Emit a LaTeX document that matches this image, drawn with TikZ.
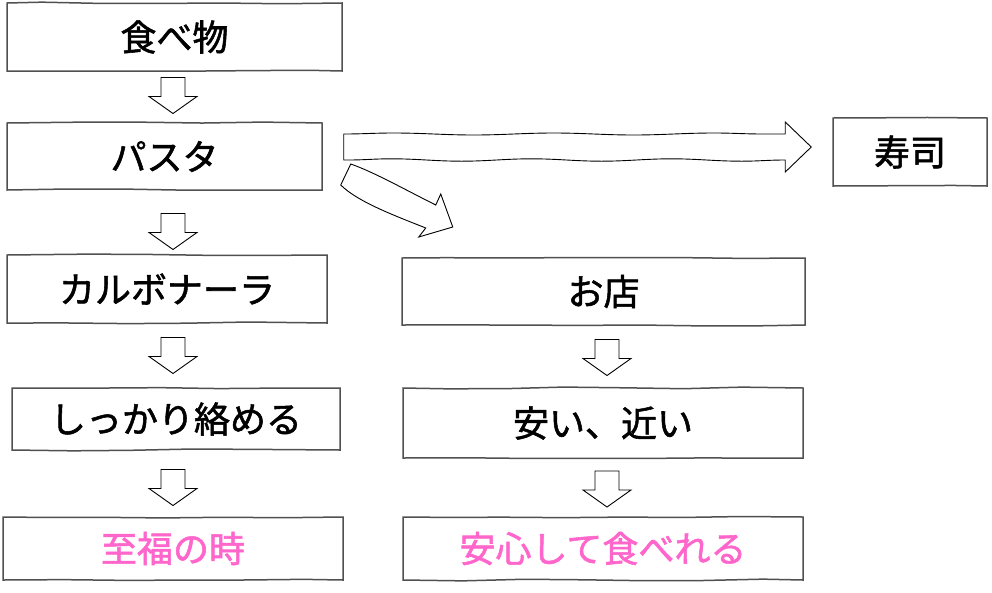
\documentclass[tikz,border=0pt]{standalone}
\usepackage{fontspec}
\setmainfont{Noto Sans CJK JP}[FakeBold=1.5]
\usetikzlibrary{calc, decorations.pathmorphing}
\definecolor{sketchgray}{HTML}{505050}
\definecolor{goalpink}{HTML}{FF66CC}
\tikzset{
    box/.style={rectangle, draw=sketchgray, line width=1.5pt, fill=white,
        align=center, inner sep=0pt, font=\fontsize{36}{42}\selectfont,
        decorate, decoration={random steps, segment length=60pt, amplitude=1pt}},
    goal/.style={box, text=goalpink},
    blockarr/.style={draw=black, line width=0.9pt, fill=white, line join=miter}
}
% block arrow pointing down, centred between two boxes
\newcommand{\blockdown}[4][0]{%
    \path ($(#3.south)!0.5!(#4.north)$) coordinate (bd-mid);
    \draw[blockarr] let \p1=($(#2 |- bd-mid)+(0,#1)$) in
        (\x1-12pt,\y1+18pt) -- (\x1+12pt,\y1+18pt) -- (\x1+12pt,\y1-1pt)
        -- (\x1+24pt,\y1-1pt) -- (\x1,\y1-18pt) -- (\x1-24pt,\y1-1pt)
        -- (\x1-12pt,\y1-1pt) -- cycle;
}
% long block arrow pointing right, wavy shaft
\newcommand{\blockright}[2]{%
    \draw[blockarr] let \p1=(#1), \p2=(#2) in
        (\x1,\y1+13pt)
        decorate[decoration={snake, amplitude=1pt, segment length=160pt}]
            {-- (\x2-26pt,\y1+13pt)}
        -- (\x2-26pt,\y1+25pt) -- (\x2,\y1) -- (\x2-26pt,\y1-25pt) -- (\x2-26pt,\y1-13pt)
        decorate[decoration={snake, amplitude=1.2pt, segment length=140pt}]
            {-- (\x1,\y1-13pt)}
        -- cycle;
}

\begin{document}
\begin{tikzpicture}[x=1pt, y=-1pt]
%% LAYOUT (pixels, y down):
%% left column  x~173 : food, pasta, carbo, tangle, bliss
%% right column x~605 : shop, cheap, safe
%% sushi far right on the pasta row
\useasboundingbox (0,0) rectangle (992,592);

\node[box, minimum width=335pt, minimum height=68pt] (food)   at (174.5, 37)  {食べ物};
\node[box, minimum width=315pt, minimum height=67pt] (pasta)  at (164.5,156.5){パスタ};
\node[box, minimum width=154pt, minimum height=68pt] (sushi)  at (910,  152)  {寿司};
\node[box, minimum width=320pt, minimum height=68pt] (carbo)  at (167,  289)  {カルボナーラ};
\node[box, minimum width=328pt, minimum height=62pt] (tangle) at (176,  419)  {しっかり絡める};
\node[goal,minimum width=340pt, minimum height=63pt] (bliss)  at (173,  548.5){至福の時};

\node[box, minimum width=403pt, minimum height=67pt] (shop)   at (603.5,291.5){お店};
\node[box, minimum width=400pt, minimum height=70pt] (cheap)  at (603,  423)  {安い、近い};
\node[goal,minimum width=400pt, minimum height=63pt] (safe)   at (603,  548.5){安心して食べれる};

\coordinate (leftcol)  at (173,0);
\coordinate (rightcol) at (607,0);

%% ── LEFT COLUMN ─────────────────────────────────────────────
\blockdown[-1.5]{leftcol}{food}{pasta}
\blockdown[9]{leftcol}{pasta}{carbo}
\blockdown{leftcol}{carbo}{tangle}
\blockdown[4]{leftcol}{tangle}{bliss}

%% ── RIGHT COLUMN ────────────────────────────────────────────
\blockdown[1]{rightcol}{shop}{cheap}
\blockdown[1.5]{rightcol}{cheap}{safe}

%% ── BRANCHES FROM PASTA ─────────────────────────────────────
%% pasta -> sushi: long straight arrow
\coordinate (longstart) at ($(pasta.east)+(21,-9.5)$);
\coordinate (longtip)   at ($(sushi.west)+(-21,-5)$);
\blockright{longstart}{longtip}

%% pasta -> shop: short bent arrow, stops short of the box
\coordinate (bendstart) at ($(pasta.east)+(23,17.5)$);
\draw[blockarr, shift={(bendstart)}]
    (5,-10) .. controls (28,-2) and (60,16) .. (90,31)
    -- (95,20) -- (107,53) -- (73,63) -- (80,54)
    .. controls (50,42) and (12,28) .. (-5,11) -- cycle;

\end{tikzpicture}
\end{document}
